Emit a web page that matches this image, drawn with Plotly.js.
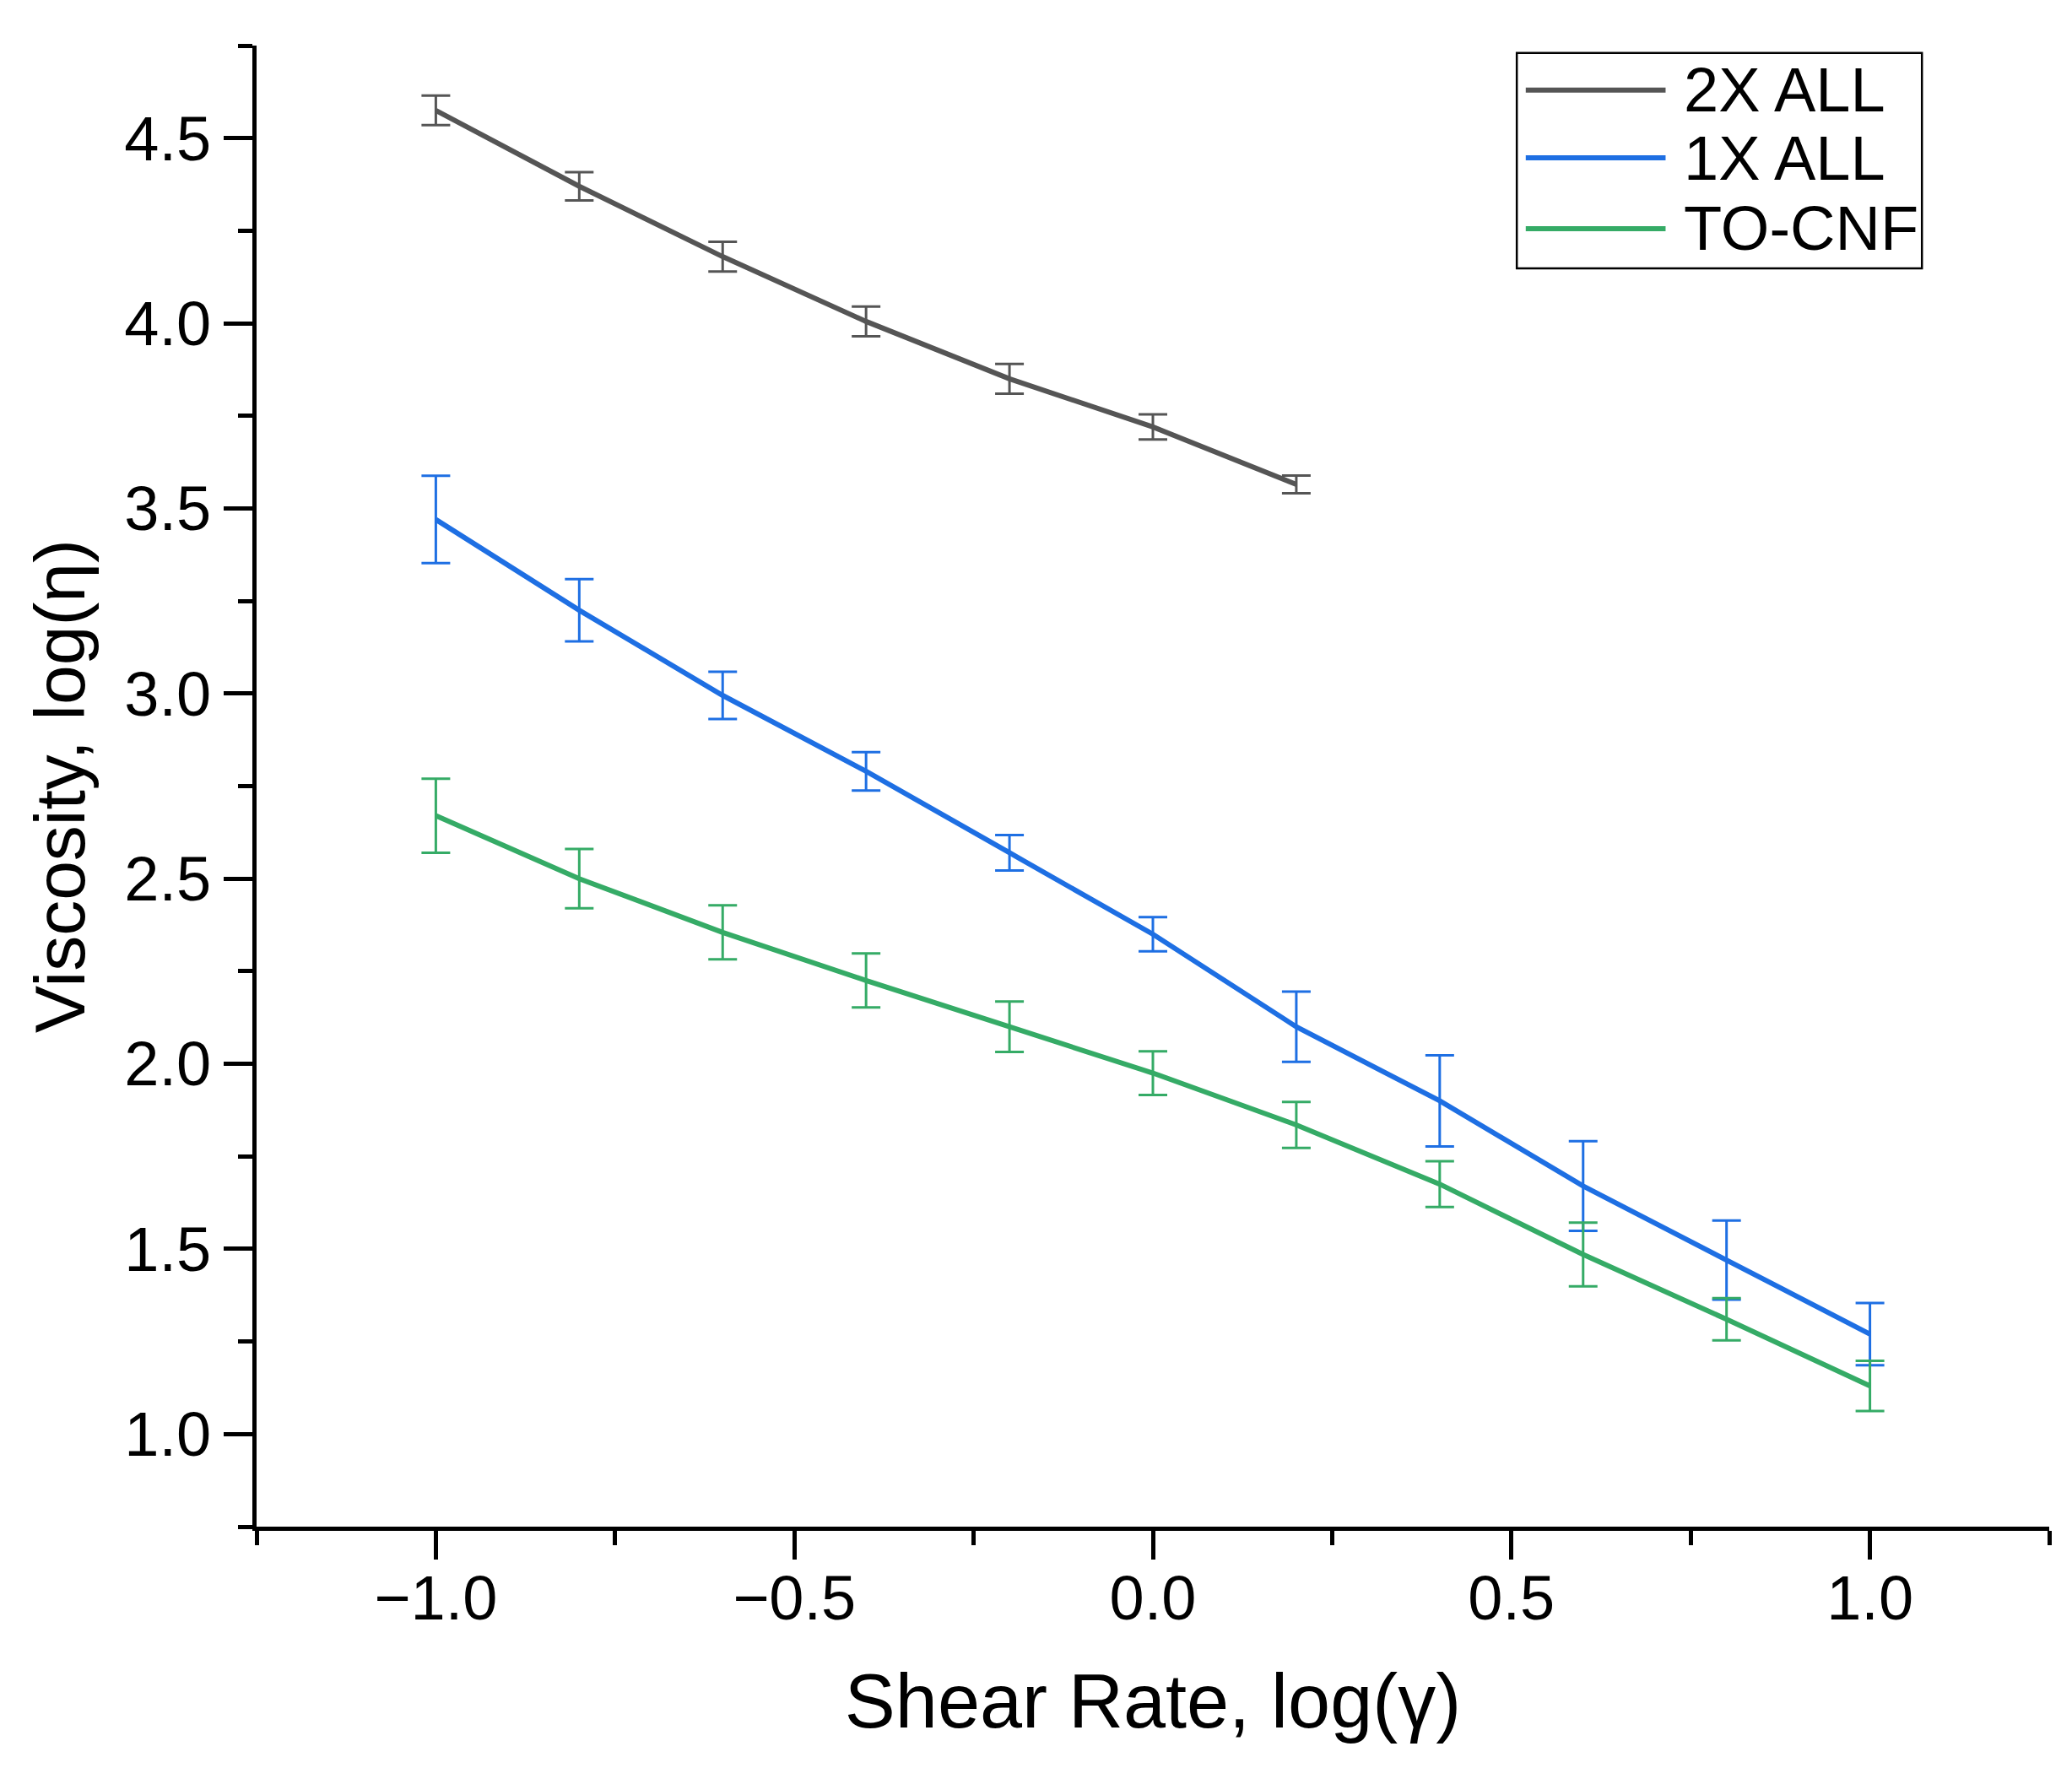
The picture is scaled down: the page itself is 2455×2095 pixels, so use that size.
<!DOCTYPE html>
<html>
<head>
<meta charset="utf-8">
<script src="https://cdn.plot.ly/plotly-3.0.1.min.js"></script>
<style>
  html, body { margin: 0; padding: 0; background: #fff; }
  #chart { width: 2455px; height: 2095px; }
</style>
</head>
<body>
<div id="chart"></div>
<script>
// shear rate, log(gamma)
const shearRate = [-1.0, -0.8, -0.6, -0.4, -0.2, 0.0, 0.2, 0.4, 0.6, 0.8, 1.0];

// viscosity, log(eta)
const visc2x = [4.575, 4.37, 4.18, 4.005, 3.85, 3.72, 3.565];
const err2x = [0.04, 0.038, 0.04, 0.04, 0.04, 0.034, 0.024];

const visc1x = [3.47, 3.225, 2.995, 2.79, 2.57, 2.35, 2.10, 1.90, 1.67, 1.47, 1.27];
const err1x = [0.118, 0.084, 0.064, 0.052, 0.048, 0.046, 0.095, 0.123, 0.121, 0.107, 0.084];

const viscCnf = [2.67, 2.50, 2.355, 2.225, 2.10, 1.975, 1.835, 1.675, 1.485, 1.31, 1.13];
const errCnf = [0.10, 0.08, 0.073, 0.073, 0.068, 0.059, 0.062, 0.062, 0.086, 0.057, 0.068];

const seriesNames = ['2X ALL', '1X ALL', 'TO-CNF'];
const seriesColors = ['#555555', '#1e6fe3', '#35ab66'];

function makeTrace(ys, errs, i) {
  return {
    x: shearRate.slice(0, ys.length),
    y: ys,
    name: seriesNames[i],
    type: 'scatter',
    mode: 'lines',
    line: { color: seriesColors[i], width: 6 },
    error_y: {
      type: 'data',
      array: errs,
      visible: true,
      color: seriesColors[i],
      thickness: 3,
      width: 17
    }
  };
}

const data = [
  makeTrace(visc2x, err2x, 0),
  makeTrace(visc1x, err1x, 1),
  makeTrace(viscCnf, errCnf, 2)
];

const fontFam = 'Liberation Sans, Arial, sans-serif';

// boxed legend drawn in paper space (long sample lines like the original)
const legendRowsY = [0.970, 0.9242, 0.8764];
const legendShapes = [{
  type: 'rect', xref: 'paper', yref: 'paper',
  x0: 0.703, x1: 0.929, y0: 0.8496, y1: 0.995,
  line: { color: '#000000', width: 2.5 },
  fillcolor: '#ffffff'
}];
const legendNotes = [];
seriesNames.forEach(function (name, i) {
  legendShapes.push({
    type: 'line', xref: 'paper', yref: 'paper',
    x0: 0.708, x1: 0.786, y0: legendRowsY[i], y1: legendRowsY[i],
    line: { color: seriesColors[i], width: 6 }
  });
  legendNotes.push({
    xref: 'paper', yref: 'paper',
    x: 0.795, y: legendRowsY[i],
    xanchor: 'left', yanchor: 'middle',
    text: name, showarrow: false,
    font: { family: fontFam, size: 74, color: '#000000' }
  });
});

const layout = {
  width: 2455,
  height: 2095,
  paper_bgcolor: '#ffffff',
  plot_bgcolor: '#ffffff',
  margin: { l: 304, r: 27, t: 54, b: 286, pad: 0 },
  font: { family: fontFam, color: '#000000' },
  showlegend: false,
  shapes: legendShapes,
  annotations: legendNotes,
  xaxis: {
    range: [-1.25, 1.25],
    tickmode: 'linear',
    tick0: -1,
    dtick: 0.5,
    tickformat: '.1f',
    ticks: 'outside',
    ticklen: 34,
    tickwidth: 5,
    tickcolor: '#000000',
    ticklabelstandoff: -18,
    minor: { dtick: 0.25, tick0: -1.25, ticks: 'outside', ticklen: 17, tickwidth: 5, tickcolor: '#000000' },
    showline: true,
    linewidth: 5,
    linecolor: '#000000',
    showgrid: false,
    zeroline: false,
    tickfont: { family: fontFam, size: 74, color: '#000000' },
    title: {
      text: 'Shear Rate, log(γ)',
      font: { family: fontFam, size: 90, color: '#000000' },
      standoff: 52
    }
  },
  yaxis: {
    range: [0.75, 4.75],
    tickmode: 'linear',
    tick0: 1,
    dtick: 0.5,
    tickformat: '.1f',
    ticks: 'outside',
    ticklen: 34,
    tickwidth: 5,
    tickcolor: '#000000',
    ticklabelstandoff: 0,
    minor: { dtick: 0.25, tick0: 0.75, ticks: 'outside', ticklen: 17, tickwidth: 5, tickcolor: '#000000' },
    showline: true,
    linewidth: 5,
    linecolor: '#000000',
    showgrid: false,
    zeroline: false,
    tickfont: { family: fontFam, size: 74, color: '#000000' },
    title: {
      text: 'Viscosity, log(η)',
      font: { family: fontFam, size: 84, color: '#000000' },
      standoff: 20
    }
  }
};

Plotly.newPlot('chart', data, layout, { displayModeBar: false, staticPlot: true });
</script>
</body>
</html>
